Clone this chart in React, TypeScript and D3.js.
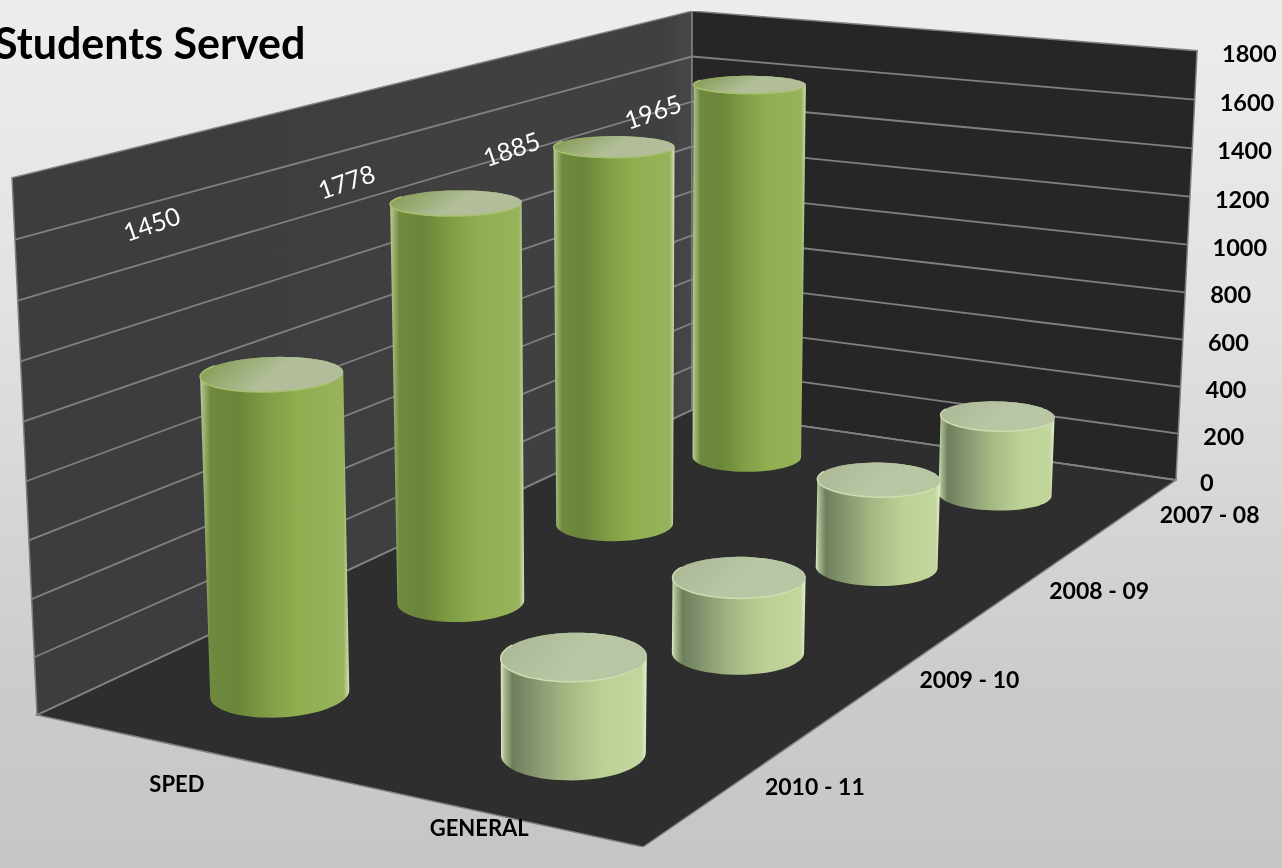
import React from "react";
import * as d3 from "d3";

const categories = ["SPED", "GENERAL"];
const years = ["2010 - 11", "2009 - 10", "2008 - 09", "2007 - 08"];
const axisTicks = [0, 200, 400, 600, 800, 1000, 1200, 1400, 1600, 1800];
const spedHeights = [1106, 1486, 1514, 1600];
const generalHeights = [325, 274, 344, 330];
const dataLabels = ["1450", "1778", "1885", "1965"];
const dataLabelLevels = [1489, 1441, 1380, 1359];
const titleLines = ["Students Served"];

const W = 1282, H = 868;
// floor corners in screen space (unit square u: category, v: depth)
const L: [number, number] = [37, 715], F: [number, number] = [643, 847], R: [number, number] = [1176, 480], B: [number, number] = [692, 410];
const DEPTH = 1.9; // world depth / world width
const RADIUS = 0.1;

const dx1 = F[0] - R[0], dy1 = F[1] - R[1], dx2 = B[0] - R[0], dy2 = B[1] - R[1];
const sx = L[0] - F[0] + R[0] - B[0], sy = L[1] - F[1] + R[1] - B[1];
const det = dx1 * dy2 - dx2 * dy1;
const g = (sx * dy2 - dx2 * sy) / det, h = (dx1 * sy - sx * dy1) / det;
const a = F[0] - L[0] + g * F[0], b = B[0] - L[0] + h * B[0], c = L[0];
const d = F[1] - L[1] + g * F[1], e = B[1] - L[1] + h * B[1], f = L[1];
const zScale = d3.scaleLinear().domain([0, 1800]).range([0, 1]);
const iz = -25.4, jz = -543.7, kz = -0.0368, shearZ = 8;

const project = (u: number, v: number, val: number): [number, number] => {
  const z = zScale(val);
  const w = g * u + h * v + 1 + kz * z;
  return [(a * u + b * v + c + (iz + shearZ * u) * z) / w, (d * u + e * v + f + jz * z) / w];
};

const uBand = d3.scaleBand<string>().domain(categories).range([0, 1]);
const vBand = d3.scaleBand<string>().domain(years).range([0, 1]);
const uOf = (cat: string) => uBand(cat)! + uBand.bandwidth() / 2;
const vOf = (y: string) => vBand(y)! + vBand.bandwidth() / 2;

const poly = (pts: [number, number][]) => d3.line()(pts)! + "Z";
const ringAngles = d3.range(0, 72).map((i) => (i / 72) * 2 * Math.PI);
const ringAt = (u: number, v: number, val: number, angles: number[]) =>
  angles.map((t) => project(u + RADIUS * Math.cos(t), v + (RADIUS * Math.sin(t)) / DEPTH, val));
const ring = (u: number, v: number, val: number) => ringAt(u, v, val, ringAngles);
const frontAngles = d3.range(0, 37).map((i) => Math.PI + (i / 36) * Math.PI);

type Bar = { id: string; series: number; u: number; v: number; val: number };
const bars: Bar[] = [
  ...years.map((y, i) => ({ id: `s${i}`, series: 0, u: uOf("SPED"), v: vOf(y), val: spedHeights[i] })),
  ...years.map((y, i) => ({ id: `g${i}`, series: 1, u: uOf("GENERAL"), v: vOf(y), val: generalHeights[i] })),
].sort((p, q) => g * q.u + h * q.v - (g * p.u + h * p.v));

const bodyStops = [
  [
    [0, "#c3d09f"], [0.02, "#a3b878"], [0.07, "#6f893f"], [0.25, "#6b8639"], [0.45, "#7f9d45"], [0.65, "#8fae50"], [0.96, "#98b35c"], [1, "#d2dfb8"],
  ],
  [
    [0, "#e2e9d0"], [0.025, "#a9ba8d"], [0.08, "#6f7f5d"], [0.2, "#81916d"], [0.45, "#a4b883"], [0.7, "#bcd095"], [0.96, "#c3d69d"], [1, "#e6eed2"],
  ],
];
const capColors = [["#80964a", "#b1be99"], ["#a9b794", "#b9c6a4"]];
const rimColors = ["#a8c06c", "#d0ddb0"];

const labelFont = "Lato, 'Open Sans', sans-serif";
const seriesLabelDx = 33;
const catLabelDy = [40, 18];

export default function App() {
  const corner = (u: number, v: number, val: number) => project(u, v, val);
  return (
    <svg width={W} height={H} viewBox={`0 0 ${W} ${H}`} style={{ position: "absolute", left: 0, top: 0, display: "block" }}>
      <defs>
        <linearGradient id="bg" x1="0" y1="0" x2="0" y2="1">
          <stop offset="0" stopColor="#ededed" />
          <stop offset="0.35" stopColor="#e2e2e2" />
          <stop offset="0.8" stopColor="#cbcbcb" />
          <stop offset="1" stopColor="#c6c6c6" />
        </linearGradient>
        <linearGradient id="leftWall" x1="0" y1="0" x2="1" y2="0">
          <stop offset="0" stopColor="#3d3d3e" />
          <stop offset="0.95" stopColor="#404042" />
          <stop offset="1" stopColor="#464648" />
        </linearGradient>
        {bodyStops.map((stops, i) => (
          <linearGradient key={i} id={`body${i}`} x1="0" y1="0" x2="1" y2="0">
            {stops.map(([o, col]) => <stop key={o as number} offset={o as number} stopColor={col as string} />)}
          </linearGradient>
        ))}
        {capColors.map((cols, i) => (
          <linearGradient key={i} id={`cap${i}`} x1="0" y1="0" x2="1" y2="0.3">
            <stop offset="0" stopColor={cols[0]} />
            <stop offset="0.6" stopColor={cols[1]} />
            <stop offset="1" stopColor={cols[1]} />
          </linearGradient>
        ))}
        <filter id="soft" x="0" y="0" width="1" height="1">
          <feGaussianBlur stdDeviation="0.45" />
        </filter>
      </defs>
      <rect width={W} height={H} fill="url(#bg)" />
      <g filter="url(#soft)">
        <path d={poly([corner(0, 0, 0), corner(0, 1, 0), corner(0, 1, 1800), corner(0, 0, 1800)])} fill="url(#leftWall)" stroke="#808080" strokeWidth={1.5} />
        <path d={poly([corner(0, 1, 0), corner(1, 1, 0), corner(1, 1, 1800), corner(0, 1, 1800)])} fill="#282828" stroke="#808080" strokeWidth={1.5} />
        <path d={poly([corner(0, 0, 0), corner(1, 0, 0), corner(1, 1, 0), corner(0, 1, 0)])} fill="#2d2d2d" stroke="#808080" strokeWidth={1.5} />
        {axisTicks.filter((t) => t < 1800).map((t) => (
          <path key={t} d={d3.line()([corner(0, 0, t), corner(0, 1, t), corner(1, 1, t)])!} fill="none" stroke="#808080" strokeWidth={1.8} />
        ))}
        {dataLabels.map((txt, i) => {
          const [x, y] = project(0, vOf(years[i]), dataLabelLevels[i]);
          return (
            <text key={txt} transform={`translate(${x},${y}) rotate(-19)`} fill="#fff" fontFamily={labelFont} fontWeight={400} fontSize={25}>{txt}</text>
          );
        })}
        {bars.map((bb) => {
          const top = ring(bb.u, bb.v, bb.val), base = ring(bb.u, bb.v, 0);
          const hull = d3.polygonHull([...top, ...base])! as [number, number][];
          return (
            <g key={bb.id}>
              <path d={poly(hull)} fill={`url(#body${bb.series})`} />
              <path d={poly(top)} fill={`url(#cap${bb.series})`} />
              <path d={d3.line()(ringAt(bb.u, bb.v, bb.val, frontAngles))!} fill="none" stroke={rimColors[bb.series]} strokeWidth={1.5} />
            </g>
          );
        })}
        {axisTicks.map((t) => {
          const [x, y] = project(1, 1, t);
          return (
            <text key={t} x={x + (t === 0 ? 24 : 25)} y={y + 11} fontFamily={labelFont} fontWeight={700} fontSize={23.5} fill="#000">{t}</text>
          );
        })}
        {categories.map((cat, i) => {
          const [x, y] = project(uOf(cat), 0, 0);
          return (
            <text key={cat} x={x} y={y + catLabelDy[i] + 7} textAnchor="middle" fontFamily={labelFont} fontWeight={700} fontSize={22} fill="#000">{cat}</text>
          );
        })}
        {years.map((yr) => {
          const [x, y] = project(1, vOf(yr), 0);
          return (
            <text key={yr} x={x + seriesLabelDx} y={y + 9} fontFamily={labelFont} fontWeight={700} fontSize={23} fill="#000">{yr}</text>
          );
        })}
        {titleLines.map((t) => (
          <text key={t} x={-6} y={59} fontFamily={labelFont} fontWeight={700} fontSize={43} fill="#000">{t}</text>
        ))}
      </g>
    </svg>
  );
}
